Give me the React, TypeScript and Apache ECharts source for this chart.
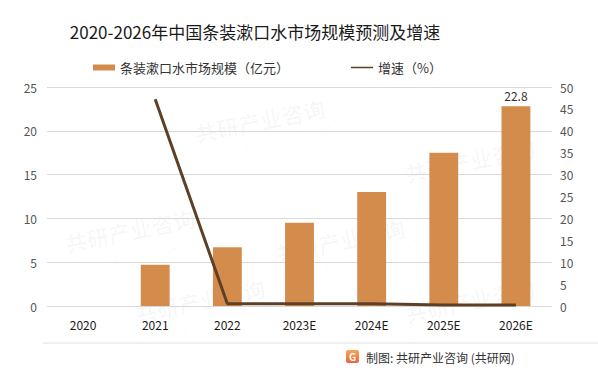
import React, { useEffect, useRef } from "react";
import * as echarts from "echarts";

const categories = ["2020", "2021", "2022", "2023E", "2024E", "2025E", "2026E"];
const marketSize = [null, 4.7, 6.7, 9.5, 13.0, 17.5, 22.8];
const growthRate = [null, 47.2, 0.5, 0.5, 0.5, 0.2, 0.2];
const leftTicks = { min: 0, max: 25, interval: 5 };
const rightTicks = { min: 0, max: 50, interval: 5 };

const TITLE = "2020-2026年中国条装漱口水市场规模预测及增速";
const BAR_NAME = "条装漱口水市场规模（亿元）";
const LINE_NAME = "增速（%）";
const FOOTER = "制图: 共研产业咨询 (共研网)";

const FONT = "'Noto Sans CJK SC', 'Microsoft YaHei', sans-serif";

export default function App() {
  const ref = useRef<HTMLDivElement>(null);
  useEffect(() => {
    document.body.style.margin = "0";
    if (!ref.current) return;
    const chart = echarts.init(ref.current, undefined, { renderer: "svg" });
    const wm: any[] = [];
    const wmPos = [
      [260, 120], [470, 160], [130, 230], [340, 240], [470, 300], [200, 300],
    ];
    wmPos.forEach(([x, y]) => {
      wm.push({
        type: "group",
        x,
        y,
        rotation: 0.2,
        silent: true,
        z: -10,
        children: [
          {
            type: "text",
            style: {
              text: "共研产业咨询",
              fontSize: 22,
              fontWeight: "bold",
              fill: "rgba(0,0,0,0.03)",
              fontFamily: FONT,
              align: "center",
              verticalAlign: "middle",
            },
          },
          {
            type: "text",
            y: 22,
            style: {
              text: "w w w . g o n y n . c o m",
              fontSize: 13,
              fill: "rgba(0,0,0,0.03)",
              fontFamily: FONT,
              align: "center",
              verticalAlign: "middle",
            },
          },
        ],
      });
    });
    chart.setOption({
      animation: false,
      backgroundColor: "#ffffff",
      textStyle: { fontFamily: FONT },
      title: {
        text: TITLE,
        left: 250,
        top: 18,
        textAlign: "center",
        textStyle: { fontSize: 17, fontWeight: "normal", color: "#1a1a1a", fontFamily: FONT },
      },
      legend: {
        top: 56,
        left: 88,
        itemGap: 62,
        itemWidth: 22,
        itemHeight: 6,
        textStyle: { fontSize: 13, color: "#333", fontFamily: FONT },
        data: [
          { name: BAR_NAME, icon: "rect" },
          {
            name: LINE_NAME,
            icon: "path://M0,0L0.01,0M0,2.2L22,2.2L22,3.8L0,3.8ZM0,6L0.01,6",
            itemStyle: { color: "#5E4027", borderWidth: 0 },
          },
        ],
      },
      grid: { left: 47, right: 46, top: 87, bottom: 67 },
      xAxis: {
        type: "category",
        data: categories,
        axisLine: { show: false },
        axisTick: { show: false },
        axisLabel: { color: "#1a1a1a", fontSize: 12, margin: 12 },
      },
      yAxis: [
        {
          type: "value",
          ...leftTicks,
          axisLine: { show: false },
          axisTick: { show: false },
          axisLabel: { color: "#555", fontSize: 12, margin: 10 },
          splitLine: { lineStyle: { color: "#d9d9d9", width: 1 } },
        },
        {
          type: "value",
          ...rightTicks,
          axisLine: { show: false },
          axisTick: { show: false },
          axisLabel: { color: "#555", fontSize: 12, margin: 8 },
          splitLine: { show: false },
        },
      ],
      series: [
        {
          name: BAR_NAME,
          type: "bar",
          data: marketSize,
          barWidth: "40%",
          itemStyle: { color: "#D48C4C" },
          label: {
            show: true,
            position: "top",
            color: "#333",
            fontSize: 12,
            formatter: (p: any) => (p.dataIndex === categories.length - 1 ? String(p.value) : ""),
          },
        },
        {
          name: LINE_NAME,
          type: "line",
          yAxisIndex: 1,
          data: growthRate,
          showSymbol: false,
          symbol: "none",
          lineStyle: { color: "#5E4027", width: 3 },
          itemStyle: { color: "#5E4027" },
        },
      ],
      graphic: [
        ...wm,
        {
          type: "line",
          shape: { x1: 43, y1: 343, x2: 598, y2: 343 },
          style: { stroke: "#e0e0e0", lineWidth: 1 },
        },
        {
          type: "rect",
          shape: { x: 346, y: 350, width: 13, height: 13, r: 2 },
          style: {
            fill: new echarts.graphic.LinearGradient(0, 0, 0, 1, [
              { offset: 0, color: "#F5A65B" },
              { offset: 1, color: "#E8663A" },
            ]),
          },
        },
        {
          type: "text",
          x: 352.5,
          y: 356.5,
          style: {
            text: "G",
            fontSize: 10,
            fontWeight: "bold",
            fill: "#fff",
            align: "center",
            verticalAlign: "middle",
            fontFamily: FONT,
          },
        },
        {
          type: "text",
          x: 366,
          y: 357,
          style: {
            text: FOOTER,
            fontSize: 12,
            fill: "#333",
            verticalAlign: "middle",
            fontFamily: FONT,
          },
        },
      ],
    });
    return () => chart.dispose();
  }, []);
  return <div ref={ref} style={{ width: 598, height: 373 }} />;
}
